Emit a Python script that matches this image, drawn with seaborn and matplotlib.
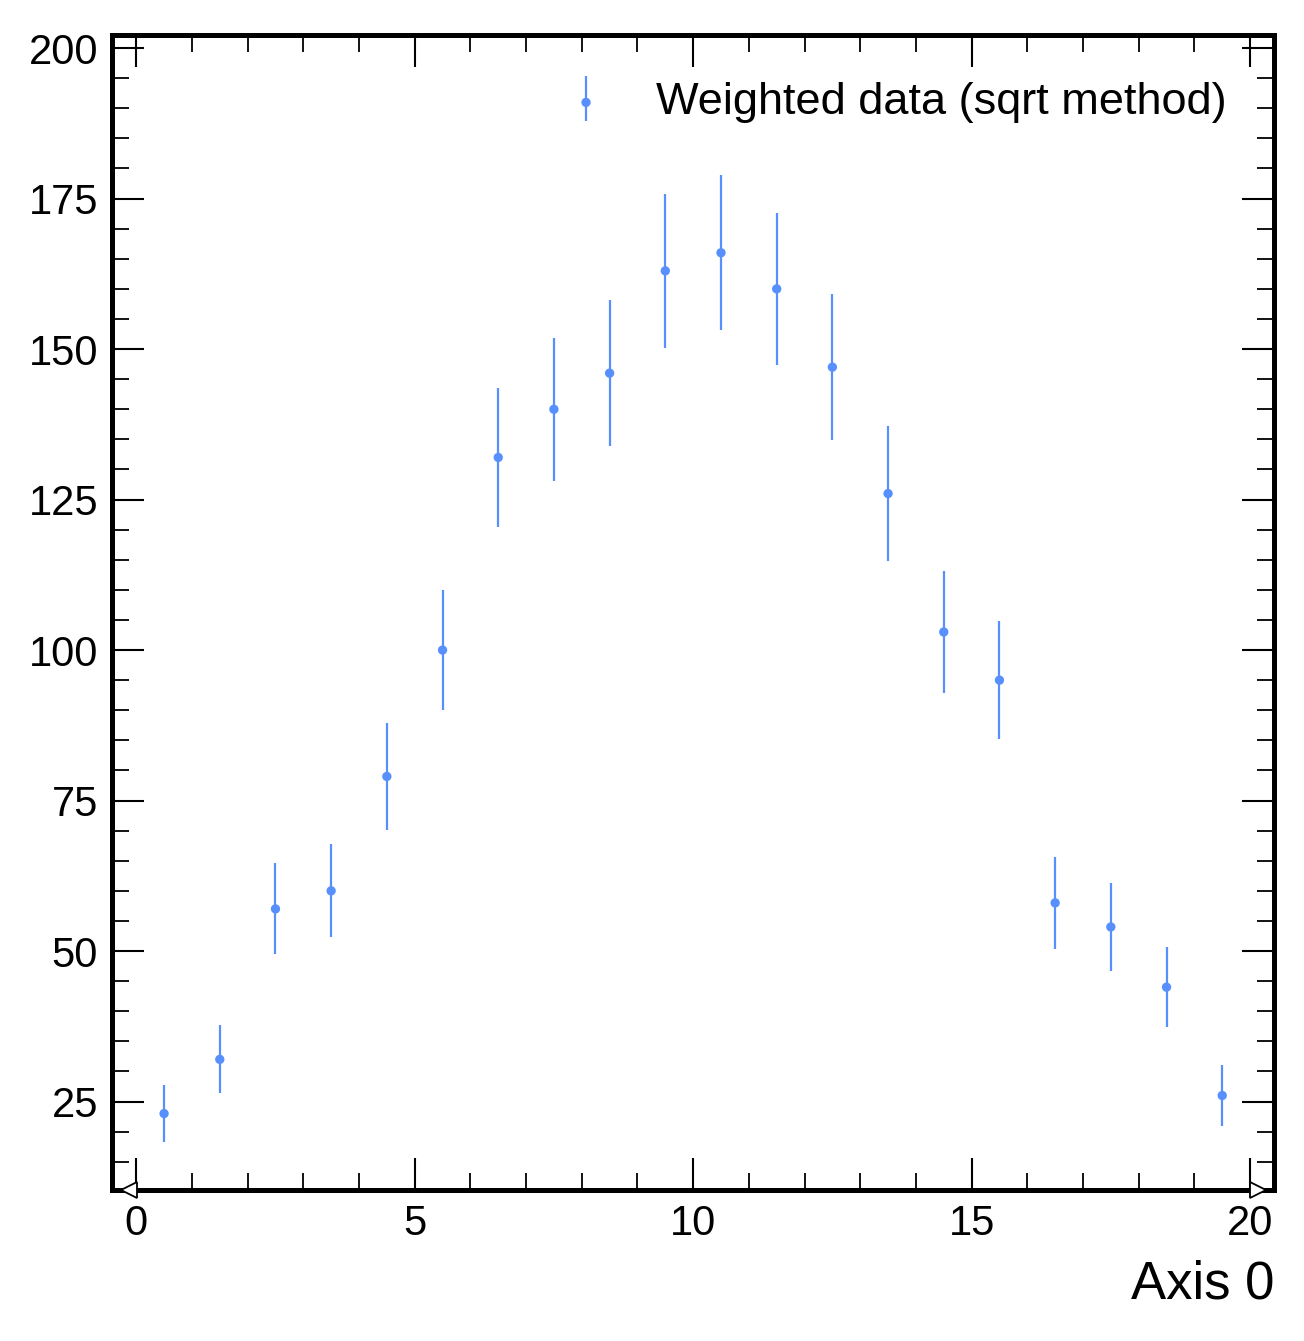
import numpy as np
import pandas as pd
import matplotlib
matplotlib.use("Agg")
import matplotlib.pyplot as plt
import matplotlib.transforms as mtransforms
from matplotlib.legend_handler import HandlerTuple
import seaborn as sns

# bin edges and weighted counts per bin
edges = np.arange(0, 21, 1)
counts = [23, 32, 57, 60, 79, 100, 132, 140, 146, 163,
          166, 160, 147, 126, 103, 95, 58, 54, 44, 26]
label = "Weighted data (sqrt method)"
xlabel = "Axis 0"

centers = (edges[:-1] + edges[1:]) / 2
df = pd.DataFrame({"x": centers, "y": counts})
df["err"] = np.sqrt(df["y"])

sns.set_theme(style="ticks")
plt.rcParams["font.family"] = ["Liberation Sans", "DejaVu Sans"]
plt.rcParams["text.color"] = "black"
plt.rcParams["axes.labelcolor"] = "black"
plt.rcParams["xtick.color"] = "black"
plt.rcParams["ytick.color"] = "black"

color = "#5790fc"
fig = plt.figure(figsize=(13.04, 13.41), dpi=100)
ax = fig.add_axes([0.0859, 0.1126, 0.977 - 0.0859, 0.974 - 0.1126])

eb = ax.errorbar(df["x"], df["y"], yerr=df["err"], fmt="none",
                 ecolor=color, elinewidth=1.6)
sns.scatterplot(data=df, x="x", y="y", ax=ax, color=color, s=45,
                edgecolor="none", legend=False, zorder=3)
sc = ax.collections[-1]

# flow hint markers just outside the outer edges
trans = mtransforms.blended_transform_factory(ax.transData, ax.transAxes)
shift = 7.5 / 100
left_t = trans + mtransforms.ScaledTranslation(-shift, 0, fig.dpi_scale_trans)
right_t = trans + mtransforms.ScaledTranslation(shift, 0, fig.dpi_scale_trans)
ax.plot([edges[0]], [0], marker="<", ms=11.5, mfc="white", mec="black",
        mew=1.3, transform=left_t, clip_on=False, zorder=5)
ax.plot([edges[-1]], [0], marker=">", ms=11.5, mfc="white", mec="black",
        mew=1.3, transform=right_t, clip_on=False, zorder=5)

ax.set_xlim(-0.435, 20.43)
ax.set_ylim(10.3, 202.2)
ax.set_xticks([0, 5, 10, 15, 20])
ax.set_xticks(np.arange(0, 21, 1), minor=True)
ax.set_yticks([25, 50, 75, 100, 125, 150, 175, 200])
ax.set_yticks(np.arange(15, 205, 5), minor=True)
ax.tick_params(which="both", direction="in", top=True, right=True,
               labelsize=30, colors="black")
ax.tick_params(which="major", length=23, width=1.5, pad=10)
ax.tick_params(which="minor", length=12, width=1.3)
for s in ax.spines.values():
    s.set_linewidth(3.6)
    s.set_color("black")

ax.set_xlabel(xlabel, fontsize=38, loc="right", labelpad=11)
ax.set_ylabel("")

ax.legend([(eb, sc)], [label], loc="upper right", frameon=False,
          fontsize=32.5, handler_map={tuple: HandlerTuple(ndivide=1)},
          handlelength=0.9, handletextpad=1.1, borderaxespad=0.65)

fig.savefig("out.png", dpi=100)
